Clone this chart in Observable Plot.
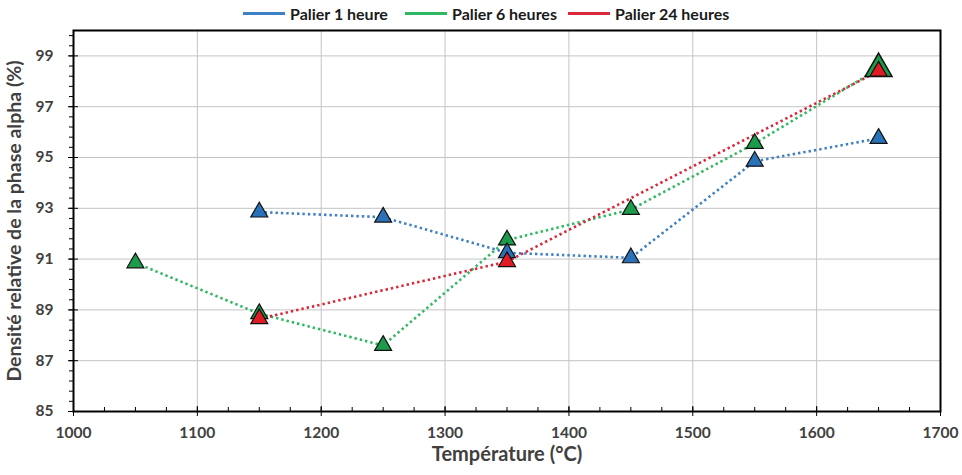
<!DOCTYPE html>
<html><head><meta charset="utf-8">
<script src="https://cdn.jsdelivr.net/npm/d3@7"></script>
<script src="https://cdn.jsdelivr.net/npm/@observablehq/plot@0.6"></script>
<style>
body{margin:0;background:#fff;font-family:Lato,"Open Sans",sans-serif;}
#wrap{width:962px;height:475px;position:relative;overflow:hidden;}
#legend{height:26px;position:relative;font-weight:bold;font-size:16px;color:#1a1a1a;}
.item{position:absolute;top:4px;display:flex;align-items:center;white-space:nowrap;}
.sw{width:42px;height:3px;margin-right:5px;}
</style></head>
<body><div id="wrap"><div id="legend"></div><div id="chart"></div></div>
<script>
// Data
const seriesNames = ["Palier 1 heure", "Palier 6 heures", "Palier 24 heures"];
const temps1 = [1150, 1250, 1350, 1450, 1550, 1650];
const dens1  = [92.85, 92.65, 91.25, 91.05, 94.85, 95.75];
const temps6 = [1050, 1150, 1250, 1350, 1450, 1550, 1650];
const dens6  = [90.85, 88.85, 87.6, 91.75, 92.95, 95.55, 98.5];
const temps24 = [1150, 1350, 1650];
const dens24  = [88.65, 90.9, 98.4];
const xTicks = [1000, 1100, 1200, 1300, 1400, 1500, 1600, 1700];
const yTicks = [85, 87, 89, 91, 93, 95, 97, 99];

const lineColors = ["#3f7fc4", "#2fb862", "#d9283a"];
const markColors = ["#2a72b8", "#1c9b4a", "#e01b24"];

const rows1 = temps1.map((t, i) => ({t, d: dens1[i]}));
const rows6 = temps6.map((t, i) => ({t, d: dens6[i]}));
const rows24 = temps24.map((t, i) => ({t, d: dens24[i]}));
const xMinor = d3.range(1000, 1701, 25);
const yMinor = d3.range(85, 100.01, 0.4);

// legend
const legend = document.getElementById("legend");
const lefts = [243, 405, 568];
seriesNames.forEach((n, i) => {
  const it = document.createElement("div");
  it.className = "item";
  it.style.left = lefts[i] + "px";
  it.innerHTML = `<span class="sw" style="background:${lineColors[i]}"></span><span>${n}</span>`;
  legend.appendChild(it);
});

const dotOpts = (c, extra = {}) => ({x: "t", y: "d", symbol: "triangle", fill: c, stroke: "#111", strokeWidth: 1.2, r: 6.3, ...extra});
const lineOpts = (c) => ({x: "t", y: "d", stroke: c, strokeWidth: 2.6, strokeDasharray: "2.4,3", strokeLinecap: "butt"});

const chart = Plot.plot({
  width: 962, height: 449,
  marginTop: 4, marginBottom: 64, marginLeft: 73, marginRight: 22,
  style: {fontFamily: "Lato, 'Open Sans', sans-serif", fontSize: "15.5px", fontWeight: "bold", color: "#404040", background: "white", overflow: "visible"},
  x: {domain: [1000, 1700], label: null},
  y: {domain: [85, 100], label: null},
  marks: [
    Plot.gridX(xTicks.slice(1, -1), {stroke: "#c4c4c4", strokeOpacity: 1}),
    Plot.gridY(yTicks.slice(1), {stroke: "#c4c4c4", strokeOpacity: 1}),
    Plot.axisX(xMinor, {tickSize: -4, text: null, label: null, stroke: "#000"}),
    Plot.axisX(xTicks, {tickSize: -5, text: null, label: null, stroke: "#000"}),
    Plot.axisX(xTicks, {tickSize: 5, tickPadding: 10, stroke: "#000", fill: "#404040", fontSize: 15.5, tickFormat: d => String(d),
      label: "Température (°C)", labelAnchor: "center", labelArrow: "none", labelOffset: 49}),
    Plot.axisY(yMinor, {tickSize: 4, text: null, label: null, stroke: "#000"}),
    Plot.axisY(yTicks, {tickSize: -5, text: null, label: null, stroke: "#000"}),
    Plot.axisY(yTicks, {tickSize: 5, tickPadding: 15, stroke: "#000", fill: "#404040", fontSize: 15.5,
      label: "Densité relative de la phase alpha (%)", labelAnchor: "center", labelArrow: "none", labelOffset: 66}),
    Plot.frame({stroke: "#000", strokeWidth: 2}),
    Plot.line(rows1, lineOpts(lineColors[0])),
    Plot.line(rows6, lineOpts(lineColors[1])),
    Plot.line(rows24, lineOpts(lineColors[2])),
    Plot.dot(rows6, dotOpts(markColors[1], {filter: d => d.t !== 1650})),
    Plot.dot(rows6, dotOpts(markColors[1], {filter: d => d.t === 1650, r: 10, strokeWidth: 1.5})),
    Plot.dot(rows1, dotOpts(markColors[0])),
    Plot.dot(rows24, dotOpts(markColors[2]))
  ]
});
document.getElementById("chart").appendChild(chart);
// label font sizes
chart.querySelectorAll("g[aria-label='x-axis label'] text").forEach(t => { t.setAttribute("font-size", 20); t.setAttribute("fill", "#404040"); });
chart.querySelectorAll("g[aria-label='y-axis label'] text").forEach(t => { t.setAttribute("font-size", 19.5); t.setAttribute("fill", "#404040"); });
</script></body></html>
